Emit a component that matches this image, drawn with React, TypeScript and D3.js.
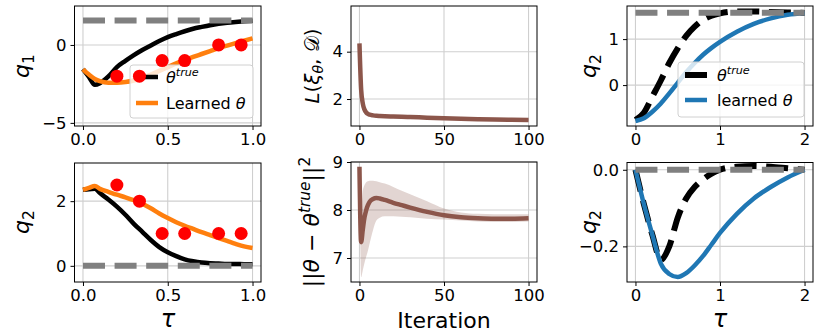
import React, { useRef, useEffect } from 'react';
import * as d3 from 'd3';

// time grid shared by the two left panels
const tauLeft = [0, 0.035, 0.07, 0.1, 0.15, 0.2, 0.25, 0.3, 0.35, 0.4, 0.45, 0.5, 0.55, 0.6, 0.65, 0.7, 0.75, 0.8, 0.85, 0.9, 0.95, 1.0];
const q1True = [-1.55, -2.05, -2.56, -2.45, -2.02, -1.42, -1.02, -0.65, -0.32, -0.03, 0.25, 0.5, 0.7, 0.88, 1.04, 1.16, 1.27, 1.36, 1.43, 1.48, 1.52, 1.55];
const q1Learned = [-1.56, -1.9, -2.18, -2.32, -2.42, -2.42, -2.38, -2.28, -2.12, -1.9, -1.66, -1.42, -1.18, -0.97, -0.77, -0.58, -0.39, -0.2, -0.04, 0.12, 0.27, 0.42];
const q2True = [2.35, 2.37, 2.38, 2.25, 2.05, 1.83, 1.58, 1.3, 1.05, 0.8, 0.58, 0.42, 0.3, 0.2, 0.14, 0.1, 0.08, 0.07, 0.06, 0.06, 0.05, 0.05];
const q2Learned = [2.35, 2.41, 2.47, 2.38, 2.29, 2.2, 2.12, 2.03, 1.92, 1.78, 1.62, 1.48, 1.35, 1.24, 1.14, 1.04, 0.95, 0.86, 0.77, 0.68, 0.6, 0.55];

// demonstration waypoints (red dots)
const demoTau = [0.2, 0.333, 0.467, 0.6, 0.8, 0.933];
const demoQ1 = [-2, -2, -1, -1, 0, 0];
const demoQ2 = [2.5, 2, 1, 1, 1, 1];

// goal values (grey dashed)
const goalQ1 = Math.PI / 2;
const goalQ2 = 0;

// training curves
const iters = [0, 1, 2, 3, 4, 5, 6, 8, 10, 12, 15, 20, 25, 30, 40, 50, 60, 70, 80, 90, 100];
const lossMean = [4.35, 2.4, 1.8, 1.55, 1.43, 1.37, 1.34, 1.31, 1.29, 1.28, 1.27, 1.26, 1.25, 1.24, 1.21, 1.19, 1.17, 1.15, 1.13, 1.12, 1.11];
const lossUpper = [4.38, 2.6, 1.95, 1.65, 1.5, 1.42, 1.38, 1.34, 1.32, 1.31, 1.3, 1.29, 1.28, 1.27, 1.24, 1.22, 1.2, 1.18, 1.16, 1.15, 1.14];
const lossLower = [4.32, 2.2, 1.6, 1.42, 1.34, 1.3, 1.29, 1.27, 1.26, 1.25, 1.24, 1.23, 1.22, 1.21, 1.18, 1.16, 1.14, 1.12, 1.1, 1.09, 1.08];
const distMean = [8.9, 7.33, 7.6, 7.85, 8.0, 8.1, 8.17, 8.23, 8.25, 8.24, 8.21, 8.15, 8.1, 8.05, 7.96, 7.89, 7.85, 7.83, 7.82, 7.82, 7.83];
const distUpper = [8.9, 8.0, 8.4, 8.52, 8.58, 8.6, 8.61, 8.61, 8.6, 8.58, 8.55, 8.48, 8.4, 8.33, 8.18, 8.03, 7.95, 7.92, 7.91, 7.91, 7.91];
const distLower = [8.9, 6.6, 6.75, 6.9, 7.03, 7.15, 7.3, 7.58, 7.78, 7.84, 7.87, 7.87, 7.86, 7.85, 7.82, 7.8, 7.78, 7.76, 7.75, 7.75, 7.76];

// time grid for the right panels
const tauRight = [0, 0.1, 0.2, 0.3, 0.4, 0.5, 0.6, 0.7, 0.8, 0.9, 1.0, 1.2, 1.4, 1.6, 1.8, 2.0];
const rTopTrue = [-0.76, -0.6, -0.25, 0.1, 0.48, 0.8, 1.07, 1.27, 1.42, 1.51, 1.56, 1.6, 1.6, 1.59, 1.58, 1.57];
const rTopLearned = [-0.78, -0.72, -0.58, -0.4, -0.18, 0.05, 0.28, 0.48, 0.66, 0.81, 0.94, 1.16, 1.33, 1.45, 1.53, 1.57];
const rBotTrue = [0, -0.09, -0.17, -0.235, -0.2, -0.125, -0.075, -0.045, -0.025, -0.01, 0, 0.008, 0.01, 0.008, 0.004, 0];
const rBotLearned = [0, -0.09, -0.17, -0.245, -0.272, -0.28, -0.27, -0.25, -0.225, -0.195, -0.165, -0.115, -0.075, -0.045, -0.02, 0];

const FONT = 'DejaVu Sans';
const TICK_FS = 16.5;
const LABEL_FS = 22;
const BLACK = '#000000';
const ORANGE = '#ff7f0e';
const BLUE = '#1f77b4';
const BROWN = '#8c564b';
const GREY = '#808080';

const minus = (s: string) => s.replace('-', '\u2212');

let clipCount = 0;

function makeAxes(svg: any, box: any, xDom: number[], yDom: number[], xTicks: number[], yTicks: number[], xFmt: (d: number) => string, yFmt: (d: number) => string) {
    const x = d3.scaleLinear().domain(xDom).range([box.l, box.r]);
    const y = d3.scaleLinear().domain(yDom).range([box.b, box.t]);
    const g = svg.append('g');

    // grid
    g.append('g').selectAll('line').data(xTicks).join('line')
        .attr('x1', d => x(d)).attr('x2', d => x(d))
        .attr('y1', box.t).attr('y2', box.b)
        .attr('stroke', '#cfcfcf').attr('stroke-width', 1.1);
    g.append('g').selectAll('line').data(yTicks).join('line')
        .attr('x1', box.l).attr('x2', box.r)
        .attr('y1', d => y(d)).attr('y2', d => y(d))
        .attr('stroke', '#cfcfcf').attr('stroke-width', 1.1);

    const id = 'clip' + (clipCount++);
    svg.append('clipPath').attr('id', id).append('rect')
        .attr('x', box.l).attr('y', box.t).attr('width', box.r - box.l).attr('height', box.b - box.t);
    const plot = g.append('g').attr('clip-path', `url(#${id})`);
    const over = svg.append('g');

    const xAxis = over.append('g').attr('transform', `translate(0,${box.b})`)
        .call(d3.axisBottom(x).tickValues(xTicks).tickFormat(xFmt as any).tickSize(4).tickPadding(3.5).tickSizeOuter(0));
    const yAxis = over.append('g').attr('transform', `translate(${box.l},0)`)
        .call(d3.axisLeft(y).tickValues(yTicks).tickFormat(yFmt as any).tickSize(4).tickPadding(4).tickSizeOuter(0));
    [xAxis, yAxis].forEach(a => {
        a.select('.domain').remove();
        a.selectAll('text').attr('font-family', FONT).attr('font-size', TICK_FS).attr('fill', BLACK);
        a.selectAll('line').attr('stroke', BLACK).attr('stroke-width', 1);
    });

    over.append('rect')
        .attr('x', box.l).attr('y', box.t).attr('width', box.r - box.l).attr('height', box.b - box.t)
        .attr('fill', 'none').attr('stroke', BLACK).attr('stroke-width', 1);

    return { x, y, plot, over };
}

function drawLine(g: any, x: any, y: any, xs: number[], ys: number[], color: string, width: number, dash?: string) {
    const line = d3.line<number>()
        .x((d, i) => x(xs[i]))
        .y(d => y(d))
        .curve(d3.curveMonotoneX);
    g.append('path')
        .datum(ys)
        .attr('fill', 'none')
        .attr('stroke', color)
        .attr('stroke-width', width)
        .attr('stroke-dasharray', dash || null)
        .attr('d', line);
}

function drawBand(g: any, x: any, y: any, xs: number[], lo: number[], hi: number[], color: string) {
    const area = d3.area<number>()
        .x((d, i) => x(xs[i]))
        .y0((d, i) => y(lo[i]))
        .y1(d => y(d))
        .curve(d3.curveMonotoneX);
    g.append('path').datum(hi).attr('fill', color).attr('opacity', 0.25).attr('d', area);
}

// text helper: parts = [text, style] where style may be 'i', 'sub', 'sup', 'isub', 'isup'
function mathText(g: any, parts: [string, string][], fs: number) {
    const t = g.append('text').attr('font-family', FONT).attr('font-size', fs).attr('fill', BLACK);
    let shift = 0;
    parts.forEach(([s, st]) => {
        const sp = t.append('tspan').text(s);
        let target = 0;
        if (st.includes('sub')) target = fs * 0.22;
        if (st.includes('sup')) target = -fs * 0.42;
        if (st.includes('sub') || st.includes('sup')) sp.attr('font-size', fs * 0.7);
        if (st.startsWith('i')) sp.attr('font-style', 'italic');
        sp.attr('dy', target - shift);
        shift = target;
    });
    return t;
}

function yLabel(svg: any, cx: number, cy: number, parts: [string, string][], fs: number) {
    const g = svg.append('g').attr('transform', `translate(${cx},${cy}) rotate(-90)`);
    mathText(g, parts, fs).attr('text-anchor', 'middle');
}

function xLabel(svg: any, cx: number, by: number, parts: [string, string][], fs: number) {
    const g = svg.append('g').attr('transform', `translate(${cx},${by})`);
    mathText(g, parts, fs).attr('text-anchor', 'middle');
}

function legendBox(g: any, l: number, t: number, w: number, h: number) {
    g.append('rect').attr('x', l).attr('y', t).attr('width', w).attr('height', h).attr('rx', 3)
        .attr('fill', 'white').attr('fill-opacity', 0.8).attr('stroke', '#d0d0d0').attr('stroke-width', 1);
}

function App() {
    const ref = useRef<SVGSVGElement>(null);

    useEffect(() => {
        document.body.style.margin = '0';
        const svg = d3.select(ref.current);
        svg.selectAll('*').remove();
        clipCount = 0;

        const fmt1 = (d: number) => minus(d3.format('.1f')(d));
        const fmt0 = (d: number) => minus(String(d));

        // ---- top left: q1
        const a1 = makeAxes(svg, { l: 74.5, r: 261, t: 6, b: 126 }, [-0.05, 1.05], [-5.2, 2.5], [0, 0.5, 1], [-5, 0], fmt1, fmt0);
        drawLine(a1.plot, a1.x, a1.y, tauLeft, q1True, BLACK, 4.5);
        drawLine(a1.plot, a1.x, a1.y, tauLeft, q1Learned, ORANGE, 4.5);
        drawLine(a1.plot, a1.x, a1.y, [0, 1], [goalQ1, goalQ1], GREY, 6, '22 9.6');
        legendBox(a1.over, 130, 65, 123, 53);
        a1.over.append('line').attr('x1', 136).attr('x2', 158).attr('y1', 77).attr('y2', 77).attr('stroke', BLACK).attr('stroke-width', 4.5);
        a1.over.append('line').attr('x1', 136).attr('x2', 158).attr('y1', 103).attr('y2', 103).attr('stroke', ORANGE).attr('stroke-width', 4.5);
        mathText(a1.over.append('g').attr('transform', 'translate(166,83)'), [['θ', 'i'], ['true', 'isup']], 16);
        mathText(a1.over.append('g').attr('transform', 'translate(166,108.5)'), [['Learned ', ''], ['θ', 'i']], 16);
        a1.over.append('g').selectAll('circle').data(demoQ1).join('circle')
            .attr('cx', (d, i) => a1.x(demoTau[i])).attr('cy', d => a1.y(d)).attr('r', 6.5).attr('fill', 'red');
        yLabel(svg, 29, 66, [['q', 'i'], ['1', 'sub']], LABEL_FS);

        // ---- bottom left: q2
        const a2 = makeAxes(svg, { l: 74.5, r: 261, t: 163, b: 282 }, [-0.05, 1.05], [-0.5, 3.18], [0, 0.5, 1], [0, 2], fmt1, fmt0);
        drawLine(a2.plot, a2.x, a2.y, tauLeft, q2True, BLACK, 4.5);
        drawLine(a2.plot, a2.x, a2.y, tauLeft, q2Learned, ORANGE, 4.5);
        drawLine(a2.plot, a2.x, a2.y, [0, 1], [goalQ2, goalQ2], GREY, 6, '22 9.6');
        a2.over.append('g').selectAll('circle').data(demoQ2).join('circle')
            .attr('cx', (d, i) => a2.x(demoTau[i])).attr('cy', d => a2.y(d)).attr('r', 6.5).attr('fill', 'red');
        yLabel(svg, 29, 222, [['q', 'i'], ['2', 'sub']], LABEL_FS);
        xLabel(svg, 168, 327, [['τ', 'i']], 24);

        // ---- top middle: loss
        const a3 = makeAxes(svg, { l: 351, r: 537, t: 6, b: 126 }, [-5, 105], [0.86, 5.93], [0, 50, 100], [2, 4], fmt0, fmt0);
        drawBand(a3.plot, a3.x, a3.y, iters, lossLower, lossUpper, BROWN);
        drawLine(a3.plot, a3.x, a3.y, iters, lossMean, BROWN, 4.5);
        yLabel(svg, 319, 66, [['L', 'i'], ['(', ''], ['ξ', 'i'], ['θ', 'isub'], [', ', ''], ['𝒟', ''], [')', '']], 20);

        // ---- bottom middle: parameter distance
        const a4 = makeAxes(svg, { l: 351, r: 537, t: 162, b: 282 }, [-5, 105], [6.5, 9.0], [0, 50, 100], [7, 8, 9], fmt0, fmt0);
        drawBand(a4.plot, a4.x, a4.y, iters, distLower, distUpper, BROWN);
        drawLine(a4.plot, a4.x, a4.y, iters, distMean, BROWN, 4.5);
        yLabel(svg, 319, 222, [['||', ''], ['θ', 'i'], [' \u2212 ', ''], ['θ', 'i'], ['true', 'isup'], ['||', ''], ['2', 'sup']], 22);
        xLabel(svg, 444, 328, [['Iteration', '']], LABEL_FS);

        // ---- top right: q2 of second task
        const a5 = makeAxes(svg, { l: 627, r: 813, t: 6, b: 126 }, [-0.1, 2.1], [-0.89, 1.72], [0, 1, 2], [0, 1], fmt0, fmt0);
        drawLine(a5.plot, a5.x, a5.y, tauRight, rTopTrue, BLACK, 6, '22 9.6');
        drawLine(a5.plot, a5.x, a5.y, tauRight, rTopLearned, BLUE, 4.5);
        drawLine(a5.plot, a5.x, a5.y, [0, 2], [goalQ1, goalQ1], GREY, 6, '22 9.6');
        legendBox(a5.over, 678, 62, 126, 55);
        a5.over.append('line').attr('x1', 685).attr('x2', 707).attr('y1', 75).attr('y2', 75).attr('stroke', BLACK).attr('stroke-width', 6).attr('stroke-dasharray', '22 9.6');
        a5.over.append('line').attr('x1', 685).attr('x2', 707).attr('y1', 100).attr('y2', 100).attr('stroke', BLUE).attr('stroke-width', 4.5);
        mathText(a5.over.append('g').attr('transform', 'translate(717,81)'), [['θ', 'i'], ['true', 'isup']], 16);
        mathText(a5.over.append('g').attr('transform', 'translate(717,106)'), [['learned ', ''], ['θ', 'i']], 16);
        yLabel(svg, 596, 66, [['q', 'i'], ['2', 'sub']], LABEL_FS);

        // ---- bottom right
        const a6 = makeAxes(svg, { l: 627, r: 813, t: 162.5, b: 282 }, [-0.1, 2.1], [-0.293, 0.019], [0, 1, 2], [-0.2, 0], fmt0, fmt1);
        drawLine(a6.plot, a6.x, a6.y, tauRight, rBotTrue, BLACK, 6, '22 9.6');
        drawLine(a6.plot, a6.x, a6.y, tauRight, rBotLearned, BLUE, 4.5);
        drawLine(a6.plot, a6.x, a6.y, [0, 2], [goalQ2, goalQ2], GREY, 6, '22 9.6');
        yLabel(svg, 596, 222, [['q', 'i'], ['2', 'sub']], LABEL_FS);
        xLabel(svg, 720, 327, [['τ', 'i']], 24);
    }, []);

    return (
        <svg ref={ref} width={830} height={332} style={{ display: 'block', background: 'white' }}></svg>
    );
}

export default App;
